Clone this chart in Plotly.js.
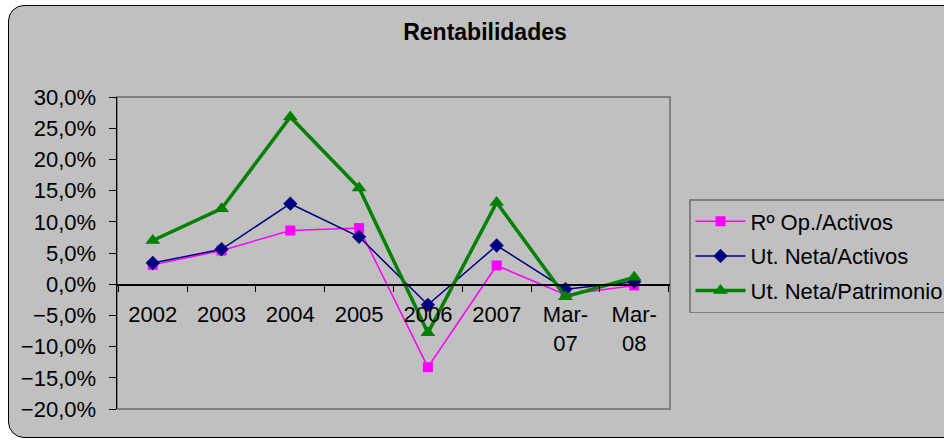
<!DOCTYPE html>
<html>
<head>
<meta charset="utf-8">
<script src="https://cdn.plot.ly/plotly-3.0.1.min.js"></script>
<style>
  html, body { margin: 0; padding: 0; background: #ffffff; overflow: hidden; }
  #frame {
    position: absolute; left: 8px; top: 5px; width: 980px; height: 431px;
    background: #c0c0c0; border: 1.5px solid #000; border-radius: 16px;
  }
  #chart { position: absolute; left: 0; top: 0; width: 944px; height: 441px; }
</style>
</head>
<body>
<div id="frame"></div>
<div id="chart"></div>
<script>
// Categories and values (in %)
const periods = ['2002', '2003', '2004', '2005', '2006', '2007', 'Mar-<br>07', 'Mar-<br>08'];
const opActivos = [3.1, 5.4, 8.6, 9.0, -13.3, 3.0, -1.7, -0.2];
const netaActivos = [3.4, 5.6, 12.9, 7.6, -3.3, 6.2, -0.8, 0.4];
const netaPatrimonio = [7.0, 12.1, 26.8, 15.4, -7.8, 13.1, -2.0, 1.1];

const font = 'Liberation Sans, Arial, sans-serif';

const traces = [
    {
        x: periods, y: opActivos, type: 'scatter', mode: 'lines+markers',
        name: 'Rº Op./Activos', legendgroup: 'a',
        line: { color: '#ff00ff', width: 1.5 },
        marker: { symbol: 'square', size: 10, color: '#ff00ff' }
    },
    {
        x: periods, y: netaActivos, type: 'scatter', mode: 'lines+markers',
        name: 'Ut. Neta/Activos', legendgroup: 'b',
        line: { color: '#000080', width: 1.5 },
        marker: { symbol: 'diamond', size: 11, color: '#000080' }
    },
    {
        x: periods, y: netaPatrimonio, type: 'scatter', mode: 'lines+markers',
        name: 'Ut. Neta/Patrimonio', legendgroup: 'c',
        line: { color: '#008000', width: 3.5 },
        marker: { symbol: 'triangle-up', size: 13, color: '#008000' }
    }
];

const layout = {
    width: 944,
    height: 441,
    margin: { l: 117, r: 274, t: 97, b: 32, autoexpand: false },
    paper_bgcolor: 'rgba(0,0,0,0)',
    plot_bgcolor: '#c0c0c0',
    separators: ',.',
    font: { family: font, size: 22, color: '#000' },
    title: {
        text: '<b>Rentabilidades</b>',
        font: { family: font, size: 23, color: '#000' },
        x: 485 / 944, xanchor: 'center', xref: 'container',
        y: 1 - 32 / 441, yanchor: 'middle', yref: 'container'
    },
    xaxis: {
        type: 'category',
        anchor: 'free',
        position: 0.4,
        showline: true, linecolor: '#000', linewidth: 1.5,
        ticks: 'outside', tickson: 'boundaries', ticklen: 6, tickcolor: '#000',
        showgrid: false, zeroline: false,
        ticklabelstandoff: 10,
        tickfont: { family: font, size: 22 }
    },
    yaxis: {
        range: [-20, 30],
        dtick: 5,
        tickformat: '.1f',
        ticksuffix: '%',
        showline: true, linecolor: '#000', linewidth: 1.5,
        ticks: 'outside', ticklen: 7, tickcolor: '#000',
        showgrid: false, zeroline: false,
        ticklabelstandoff: 8,
        tickfont: { family: font, size: 22 }
    },
    showlegend: true,
    legend: {
        x: (689 - 117) / 553, xanchor: 'left',
        y: (409 - 199) / 312, yanchor: 'top',
        bgcolor: 'rgba(0,0,0,0)',
        bordercolor: '#808080', borderwidth: 1.5,
        font: { family: font, size: 22 },
        traceorder: 'grouped',
        tracegroupgap: 3,
        itemwidth: 50
    },
    shapes: [{
        type: 'rect', xref: 'paper', yref: 'paper',
        x0: 0, x1: 1, y0: 0, y1: 1,
        line: { color: '#808080', width: 2 },
        layer: 'below'
    }],
    hovermode: false
};

Plotly.newPlot('chart', traces, layout, { displayModeBar: false, staticPlot: true });
</script>
</body>
</html>
